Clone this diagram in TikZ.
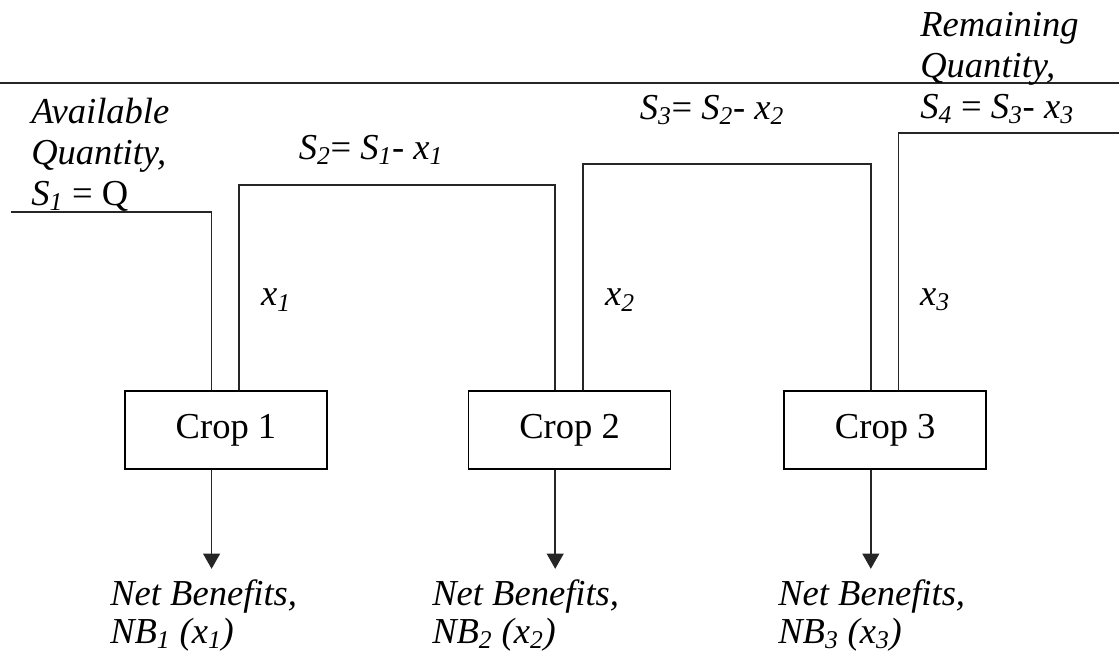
\documentclass[tikz,border=0pt]{standalone}
\usepackage{fontspec}
\setmainfont{Liberation Serif}
\usetikzlibrary{arrows.meta}
\newcommand{\sv}[2]{\textit{#1}\textsubscript{\textit{#2}}}
\tikzset{
  cropbox/.style={draw, line width=1.2pt, minimum width=5.05cm, minimum height=1.95cm, inner sep=0pt},
  flow/.style={line width=1.1pt, black!85},
  gain/.style={flow, -{Triangle[length=0.38cm,width=0.42cm]}},
  lbl/.style={font=\fontsize{26}{29}\selectfont, inner sep=0pt},
  note/.style={lbl, align=left, font=\fontsize{26}{29}\selectfont\itshape},
  benefit/.style={note, font=\fontsize{26}{27.5}\selectfont\itshape}
}
\begin{document}
\begin{tikzpicture}
  \useasboundingbox (0,0) rectangle (27.975,16.425);
  % Top boundary
  \coordinate (topl) at (0,14.35);
  \coordinate (topr) at (27.975,14.35);
  \draw[flow] (topl) -- (topr);
  % Crops
  \node[cropbox] (crop1) at (5.65,5.675) {\fontsize{26}{29}\selectfont Crop 1};
  \node[cropbox] (crop2) at (14.24,5.675) {\fontsize{26}{29}\selectfont Crop 2};
  \node[cropbox] (crop3) at (22.13,5.675) {\fontsize{26}{29}\selectfont Crop 3};
  % Stock labels
  \node[note, anchor=west] (avail) at (0.775,12.55)
    {Available\\Quantity,\\\sv{S}{1}\upshape{} = Q};
  \node[lbl] (s2lbl) at (9.275,12.675) {\sv{S}{2}= \sv{S}{1}- \sv{x}{1}};
  \node[lbl] (s3lbl) at (17.8,13.675) {\sv{S}{3}= \sv{S}{2}- \sv{x}{2}};
  \node[note, anchor=west] (remain) at (23.0,14.725)
    {Remaining\\Quantity,\\\sv{S}{4}\upshape{} = \sv{S}{3}- \sv{x}{3}};
  % Releases
  \node[lbl] (x1lbl) at (6.9,8.925) {\sv{x}{1}};
  \node[lbl] (x2lbl) at (15.5,8.925) {\sv{x}{2}};
  \node[lbl] (x3lbl) at (23.375,8.925) {\sv{x}{3}};
  % Benefits
  \node[benefit, anchor=north west] (nb1) at (2.75,1.95)
    {Net Benefits,\\NB\textsubscript{1} (\sv{x}{1})};
  \node[benefit, anchor=north west] (nb2) at (10.8,1.95)
    {Net Benefits,\\NB\textsubscript{2} (\sv{x}{2})};
  \node[benefit, anchor=north west] (nb3) at (19.45,1.95)
    {Net Benefits,\\NB\textsubscript{3} (\sv{x}{3})};
  % Stock lines
  \coordinate (s1) at (0.275,11.125);
  \coordinate (s4) at (27.975,13.1);
  \draw[flow] (s1) -| ([xshift=-0.36cm]crop1.north);
  \draw[flow] ([xshift=0.33cm]crop1.north) -- ++(0,5.125)
    -| ([xshift=-0.36cm]crop2.north);
  \draw[flow] ([xshift=0.33cm]crop2.north) -- ++(0,5.65)
    -| ([xshift=-0.36cm]crop3.north);
  \draw[flow] ([xshift=0.33cm]crop3.north) |- (s4);
  % Benefit arrows
  \draw[gain] ([xshift=-0.36cm]crop1.south) -- ++(0,-2.475);
  \draw[gain] ([xshift=-0.36cm]crop2.south) -- ++(0,-2.475);
  \draw[gain] ([xshift=-0.36cm]crop3.south) -- ++(0,-2.475);
\end{tikzpicture}
\end{document}
